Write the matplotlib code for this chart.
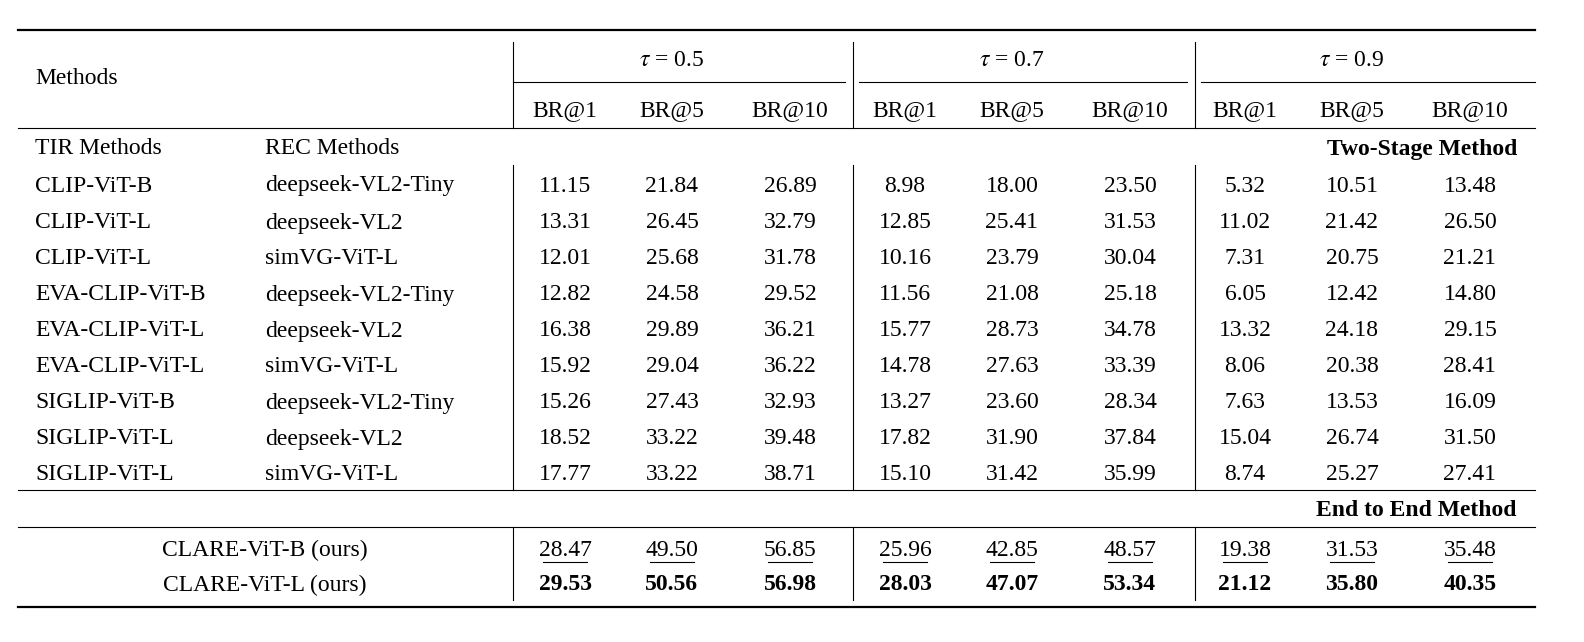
import matplotlib
matplotlib.use("Agg")
import matplotlib.pyplot as plt

tir = ["CLIP-ViT-B","CLIP-ViT-L","CLIP-ViT-L","EVA-CLIP-ViT-B","EVA-CLIP-ViT-L","EVA-CLIP-ViT-L","SIGLIP-ViT-B","SIGLIP-ViT-L","SIGLIP-ViT-L"]
rec = ["deepseek-VL2-Tiny","deepseek-VL2","simVG-ViT-L","deepseek-VL2-Tiny","deepseek-VL2","simVG-ViT-L","deepseek-VL2-Tiny","deepseek-VL2","simVG-ViT-L"]
two_stage = [
 ["11.15","21.84","26.89","8.98","18.00","23.50","5.32","10.51","13.48"],
 ["13.31","26.45","32.79","12.85","25.41","31.53","11.02","21.42","26.50"],
 ["12.01","25.68","31.78","10.16","23.79","30.04","7.31","20.75","21.21"],
 ["12.82","24.58","29.52","11.56","21.08","25.18","6.05","12.42","14.80"],
 ["16.38","29.89","36.21","15.77","28.73","34.78","13.32","24.18","29.15"],
 ["15.92","29.04","36.22","14.78","27.63","33.39","8.06","20.38","28.41"],
 ["15.26","27.43","32.93","13.27","23.60","28.34","7.63","13.53","16.09"],
 ["18.52","33.22","39.48","17.82","31.90","37.84","15.04","26.74","31.50"],
 ["17.77","33.22","38.71","15.10","31.42","35.99","8.74","25.27","27.41"],
]
e2e_names = ["CLARE-ViT-B (ours)","CLARE-ViT-L (ours)"]
e2e = [
 ["28.47","49.50","56.85","25.96","42.85","48.57","19.38","31.53","35.48"],
 ["29.53","50.56","56.98","28.03","47.07","53.34","21.12","35.80","40.35"],
]
taus = ["$\\tau$ = 0.5","$\\tau$ = 0.7","$\\tau$ = 0.9"]
metrics = ["BR@1","BR@5","BR@10"]

fig = plt.figure(figsize=(15.84,6.42), dpi=100)
ax = fig.add_axes([0,0,1,1]); ax.set_xlim(0,1584); ax.set_ylim(642,0); ax.axis("off")
FS = 17; FAM = "Liberation Serif"
plt.rcParams['mathtext.fontset'] = 'stix'
def T(x,y,s,ha="center",bold=False):
    ax.text(x,y+3,s,ha=ha,va="center",fontsize=FS,family=FAM,fontweight="bold" if bold else "normal")

L, R = 18, 1535
colx = [565,672,790,905,1012,1130,1245,1352,1470]
vx = [513,853,1195]
ax.plot([L,R],[30,30],color="k",lw=1.6)
ax.plot([L,R],[607,607],color="k",lw=1.6)
for y in [128,490,527]:
    ax.plot([L,R],[y,y],color="k",lw=0.8)
for i,v in enumerate(vx):
    end = vx[i+1]-8 if i<2 else R
    ax.plot([v+6 if i else v,end],[82,82],color="k",lw=0.8)
for v in vx:
    for a,b in [(42,128),(165,490),(527,600)]:
        ax.plot([v,v],[a,b],color="k",lw=0.8)

T(35,75,"Methods",ha="left")
for i,t in enumerate(taus):
    T(colx[3*i+1],58,t)
    for j,m in enumerate(metrics):
        T(colx[3*i+j],108,m)
T(35,146,"TIR Methods",ha="left"); T(265,146,"REC Methods",ha="left")
T(R-18,146,"Two-Stage Method",ha="right",bold=True)
ys = [183,220,255,292,328,364,400,436,472]
for r in range(9):
    T(35,ys[r],tir[r],ha="left"); T(265,ys[r],rec[r],ha="left")
    for c in range(9):
        T(colx[c],ys[r],two_stage[r][c])
T(R-18,508,"End to End Method",ha="right",bold=True)
for r,y in enumerate([547,582]):
    T(265,y,e2e_names[r])
    for c in range(9):
        T(colx[c],y,e2e[r][c],bold=(r==1))
        if r==0:
            w = 40 if len(e2e[r][c])==5 else 32
            ax.plot([colx[c]-w/2-2,colx[c]+w/2+2],[562,562],color="k",lw=0.8)
fig.savefig("out.png",dpi=100)
